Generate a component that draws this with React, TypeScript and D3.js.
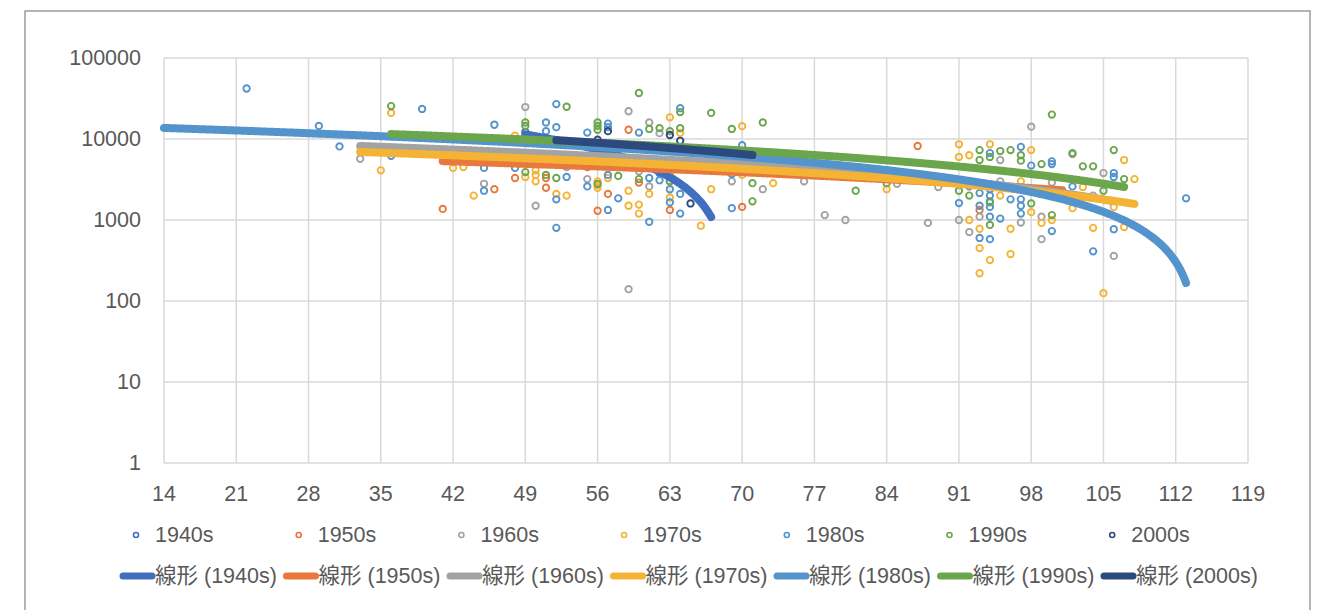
import React from 'react';
import * as d3 from 'd3';

// Decades and their Office-style colours
const decades = ['1940s', '1950s', '1960s', '1970s', '1980s', '1990s', '2000s'];
const colors = ['#3F6FBE', '#E8783C', '#A3A3A3', '#F5B335', '#5394CD', '#6CA64C', '#2D4A7E'];

// Scatter values per decade: [age, value]
const pts1940s: [number, number][] = [
  [49, 12200], [55, 8000], [60, 5000], [62, 3800],
];
const pts1950s: [number, number][] = [
  [41, 1370], [46, 2400], [48, 3300], [51, 3300], [51, 2500], [56, 1300], [57, 2100],
  [59, 13000], [63, 1330], [70, 1450], [87, 8200], [93, 1330], [60, 2900], [55, 4500],
];
const pts1960s: [number, number][] = [
  [33, 5700], [45, 2800], [49, 24800], [50, 1500], [55, 3200], [59, 22000], [59, 140],
  [61, 16000], [62, 11800], [61, 2600], [69, 3000], [72, 2400], [76, 3000], [78, 1150],
  [80, 1000], [85, 2800], [88, 920], [89, 2550], [91, 1000], [92, 710], [93, 1100],
  [95, 5500], [98, 14200], [99, 1100], [99, 580], [102, 6500], [105, 3800], [106, 360],
  [53, 4500], [63, 3000], [60, 4000], [95, 3000], [100, 2900], [104, 2000], [97, 930],
];
const pts1970s: [number, number][] = [
  [35, 4100], [36, 21000], [42, 4400], [43, 4500], [44, 2000], [48, 11000], [49, 3400],
  [50, 4100], [50, 3600], [50, 3000], [52, 2100], [53, 2000], [56, 3000], [56, 2700],
  [56, 2500], [59, 2300], [59, 1500], [60, 1550], [60, 1200], [61, 2100], [63, 18500],
  [63, 3800], [63, 1900], [64, 11900], [66, 850], [67, 2400], [70, 14400], [70, 3600],
  [73, 2850], [84, 2400], [91, 8600], [91, 6000], [92, 6300], [92, 1000], [93, 780],
  [93, 450], [93, 220], [94, 8600], [94, 320], [96, 380], [96, 780], [98, 7300],
  [98, 1250], [99, 920], [100, 1000], [102, 1400], [103, 2550], [104, 800], [105, 125],
  [106, 1450], [107, 5500], [107, 820], [108, 3200], [97, 3000], [95, 2000], [57, 3300],
];
const pts1980s: [number, number][] = [
  [22, 42000], [29, 14500], [31, 8100], [36, 6200], [39, 23500], [45, 4400], [45, 2300],
  [46, 15000], [48, 4400], [51, 16000], [51, 12500], [52, 27000], [52, 14000], [52, 1800],
  [52, 800], [53, 3400], [55, 12000], [55, 2600], [57, 15500], [57, 14000], [57, 3600],
  [57, 1330], [58, 1850], [60, 12000], [61, 950], [61, 3300], [62, 3100], [63, 2400],
  [63, 1650], [64, 24000], [64, 2100], [64, 1200], [69, 3700], [69, 1400], [70, 8400],
  [91, 1620], [93, 2150], [93, 600], [94, 6700], [94, 1450], [94, 1100], [94, 580],
  [95, 1040], [97, 8000], [97, 1200], [98, 4700], [100, 5300], [100, 4900], [100, 730],
  [102, 2600], [104, 410], [106, 3800], [106, 3400], [106, 770], [113, 1850], [92, 2600],
  [96, 1800], [93, 1500], [94, 2400], [94, 2000], [94, 1700], [97, 1800], [97, 1500],
];
const pts1990s: [number, number][] = [
  [36, 25500], [49, 16000], [49, 14500], [49, 3900], [51, 3600], [52, 3300], [53, 25000],
  [56, 16000], [56, 14500], [56, 13000], [60, 37000], [61, 13300], [62, 13600], [63, 12500],
  [64, 21500], [64, 13600], [67, 21000], [69, 13300], [72, 16000], [71, 2850], [71, 1700],
  [81, 2300], [84, 2850], [93, 7300], [93, 5500], [94, 6000], [94, 1650], [94, 870],
  [95, 7100], [96, 7300], [97, 6300], [97, 5400], [98, 1600], [100, 20000], [99, 4900],
  [100, 1150], [102, 6700], [103, 4600], [104, 4600], [105, 2300], [106, 7300], [107, 3200],
  [91, 2300], [92, 2000], [56, 2800], [60, 3200], [58, 3500], [63, 3000],
];
const pts2000s: [number, number][] = [
  [57, 12500], [63, 11200], [64, 9500], [65, 1600], [56, 9800],
];
const seriesPoints = [pts1940s, pts1950s, pts1960s, pts1970s, pts1980s, pts1990s, pts2000s];

// Linear trend per decade: value = intercept + slope * age, over the decade's age span
const trendIntercept = [39477, 7390, 11137, 9270, 15614, 16040, 18809];
const trendSlope = [-573, -50.1, -89, -71.2, -136.7, -126, -175.6];
const trendFrom = [49, 41, 33, 33, 14, 36, 52];
const trendTo = [67, 101, 106, 108, 113, 107, 71];

const xTicks = [14, 21, 28, 35, 42, 49, 56, 63, 70, 77, 84, 91, 98, 105, 112, 119];
const yTicks = [1, 10, 100, 1000, 10000, 100000];

const W = 1321;
const H = 610;
const FONT = "'Liberation Sans', Arial, 'Noto Sans CJK JP', sans-serif";
const FS = 21.5;
const TEXT = '#595959';
const GRID = '#D9D9D9';

export default function App() {
  const x = d3.scaleLinear().domain([14, 119]).range([164, 1248]);
  const y = d3.scaleLog().domain([1, 100000]).range([463, 58]);

  const line = d3
    .line<[number, number]>()
    .x((d) => x(d[0]))
    .y((d) => y(d[1]));

  const trendPath = (i: number) => {
    const xs = d3.range(trendFrom[i], trendTo[i], 0.1).concat([trendTo[i]]);
    const pts: [number, number][] = xs.map((a) => [a, trendIntercept[i] + trendSlope[i] * a]);
    return line(pts) || '';
  };

  const legendStep1 = 162.7;
  const legendStep2 = 163.5;

  return (
    <svg
      width={W}
      height={H}
      style={{ position: 'absolute', left: 0, top: 0, background: '#fff' }}
      fontFamily={FONT}
    >
      <rect x={0} y={0} width={W} height={H} fill="#fff" />
      {/* chart frame */}
      <rect x={25} y={11} width={1285} height={640} fill="none" stroke="#8C8C8C" strokeWidth={1.3} />

      {/* gridlines */}
      {yTicks.map((t) => (
        <line key={'gy' + t} x1={164} x2={1248} y1={y(t)} y2={y(t)} stroke={GRID} strokeWidth={1.5} />
      ))}
      {xTicks.map((t) => (
        <line key={'gx' + t} x1={x(t)} x2={x(t)} y1={58} y2={463} stroke={GRID} strokeWidth={1.5} />
      ))}

      {/* axis labels */}
      {yTicks.map((t) => (
        <text
          key={'ly' + t}
          x={141}
          y={y(t)}
          textAnchor="end"
          dominantBaseline="central"
          fontSize={FS}
          fill={TEXT}
        >
          {t}
        </text>
      ))}
      {xTicks.map((t) => (
        <text
          key={'lx' + t}
          x={x(t)}
          y={494}
          textAnchor="middle"
          dominantBaseline="central"
          fontSize={FS}
          fill={TEXT}
        >
          {t}
        </text>
      ))}

      {/* scatter markers */}
      {seriesPoints.map((pts, i) => (
        <g key={'s' + i}>
          {pts.map((p, j) => (
            <circle
              key={j}
              cx={x(p[0])}
              cy={y(p[1])}
              r={3.2}
              fill="none"
              stroke={colors[i]}
              strokeWidth={1.9}
            />
          ))}
        </g>
      ))}

      {/* trend lines */}
      {decades.map((d, i) => (
        <path
          key={'t' + d}
          d={trendPath(i)}
          fill="none"
          stroke={colors[i]}
          strokeWidth={8}
          strokeLinecap="round"
          strokeLinejoin="round"
        />
      ))}

      {/* legend: markers */}
      {decades.map((d, i) => {
        const mx = 136 + i * legendStep1;
        return (
          <g key={'lg1' + d}>
            <circle cx={mx} cy={535} r={2.5} fill="none" stroke={colors[i]} strokeWidth={1.6} />
            <text x={mx + 19} y={535} dominantBaseline="central" fontSize={FS} fill={TEXT}>
              {d}
            </text>
          </g>
        );
      })}

      {/* legend: trend lines */}
      {decades.map((d, i) => {
        const lx = 120 + i * legendStep2;
        return (
          <g key={'lg2' + d}>
            <line
              x1={lx + 3}
              x2={lx + 32}
              y1={576}
              y2={576}
              stroke={colors[i]}
              strokeWidth={7}
              strokeLinecap="round"
            />
            <text x={lx + 35} y={576} dominantBaseline="central" fontSize={FS} fill={TEXT}>
              {'線形 (' + d + ')'}
            </text>
          </g>
        );
      })}
    </svg>
  );
}
